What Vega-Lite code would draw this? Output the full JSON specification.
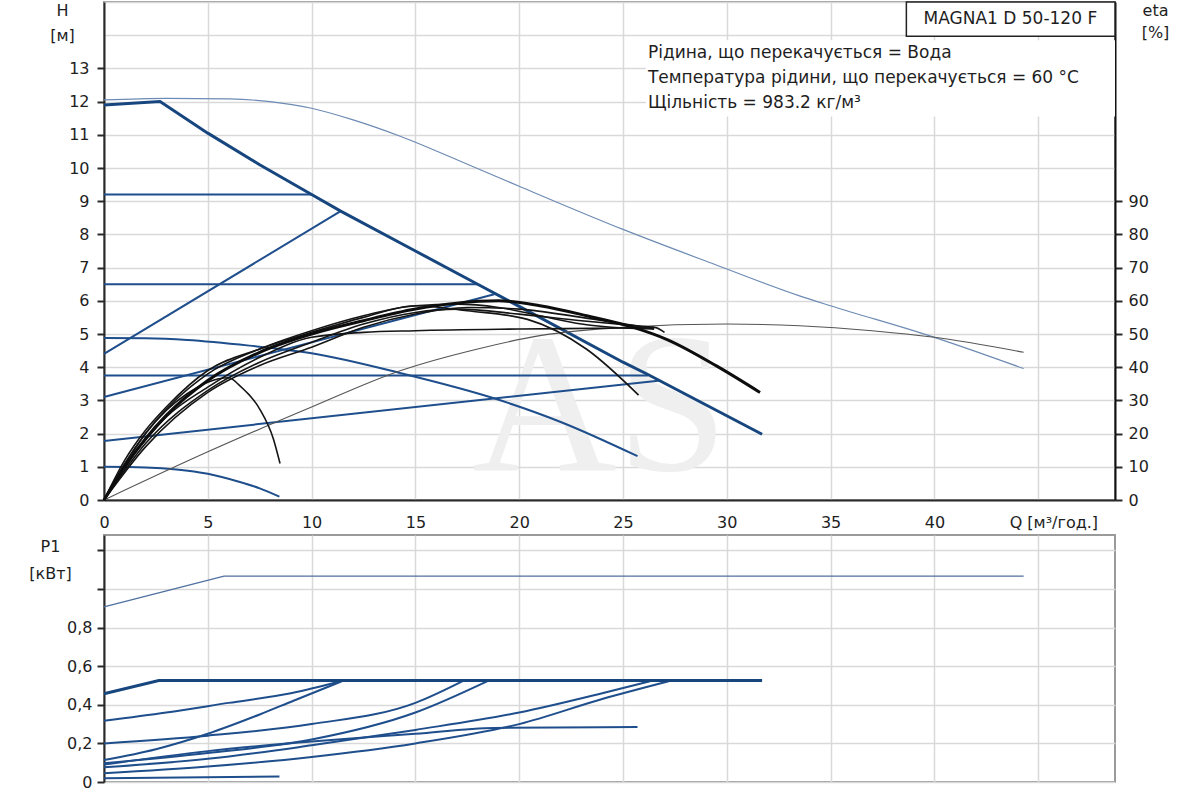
{
  "$schema": "https://vega.github.io/schema/vega-lite/v6.json",
  "background": "white",
  "padding": {"left": 27, "top": 0, "right": 0, "bottom": 0},
  "spacing": 3,
  "config": {
    "font": "DejaVu Sans",
    "view": {"stroke": "#9a9a9a", "strokeWidth": 2},
    "line": {"interpolate": "monotone"},
    "axis": {
      "labelFont": "DejaVu Sans", "labelFontSize": 16, "labelColor": "#1e1e1e",
      "titleFont": "DejaVu Sans", "titleFontSize": 16, "titleFontWeight": "normal", "titleColor": "#1e1e1e",
      "gridColor": "#d9d9d9", "gridWidth": 1.5,
      "domainColor": "#2a2a2a", "domainWidth": 2, "tickColor": "#2a2a2a", "tickWidth": 2
    }
  },
  "datasets": {
    "hcurves": [
      {"c": "max", "q": 0, "h": 11.9}, {"c": "max", "q": 2.7, "h": 12.0}, {"c": "max", "q": 5, "h": 11.05},
      {"c": "max", "q": 7.5, "h": 10.1}, {"c": "max", "q": 10, "h": 9.2}, {"c": "max", "q": 11.4, "h": 8.7},
      {"c": "max", "q": 15, "h": 7.5}, {"c": "max", "q": 18, "h": 6.5}, {"c": "max", "q": 20, "h": 5.83},
      {"c": "max", "q": 25, "h": 4.15}, {"c": "max", "q": 26.2, "h": 3.78}, {"c": "max", "q": 31.7, "h": 1.98},
      {"c": "cp92", "q": 0, "h": 9.2}, {"c": "cp92", "q": 10, "h": 9.2},
      {"c": "cp65", "q": 0, "h": 6.5}, {"c": "cp65", "q": 18, "h": 6.5},
      {"c": "cp375", "q": 0, "h": 3.75}, {"c": "cp375", "q": 26.2, "h": 3.75},
      {"c": "pp1", "q": 0, "h": 4.4}, {"c": "pp1", "q": 11.4, "h": 8.7},
      {"c": "pp2", "q": 0, "h": 3.1}, {"c": "pp2", "q": 18.8, "h": 6.2},
      {"c": "pp3", "q": 0, "h": 1.78}, {"c": "pp3", "q": 26.8, "h": 3.6},
      {"c": "cc", "q": 0, "h": 4.88}, {"c": "cc", "q": 2, "h": 4.87}, {"c": "cc", "q": 4, "h": 4.82},
      {"c": "cc", "q": 7, "h": 4.65}, {"c": "cc", "q": 10, "h": 4.42}, {"c": "cc", "q": 14.3, "h": 3.82},
      {"c": "cc", "q": 18.9, "h": 3.04}, {"c": "cc", "q": 22, "h": 2.35}, {"c": "cc", "q": 25.7, "h": 1.32},
      {"c": "min", "q": 0, "h": 1.0}, {"c": "min", "q": 2, "h": 0.98}, {"c": "min", "q": 3.5, "h": 0.92},
      {"c": "min", "q": 5, "h": 0.79}, {"c": "min", "q": 6.5, "h": 0.55}, {"c": "min", "q": 7.5, "h": 0.35},
      {"c": "min", "q": 8.45, "h": 0.1},
      {"c": "twin", "q": 0, "h": 12.05}, {"c": "twin", "q": 3, "h": 12.1}, {"c": "twin", "q": 6, "h": 12.08},
      {"c": "twin", "q": 8, "h": 12.0}, {"c": "twin", "q": 10, "h": 11.8}, {"c": "twin", "q": 12, "h": 11.45},
      {"c": "twin", "q": 14.3, "h": 10.95}, {"c": "twin", "q": 17, "h": 10.25}, {"c": "twin", "q": 20, "h": 9.45},
      {"c": "twin", "q": 25, "h": 8.15}, {"c": "twin", "q": 29.4, "h": 7.1}, {"c": "twin", "q": 33.5, "h": 6.15},
      {"c": "twin", "q": 35, "h": 5.85}, {"c": "twin", "q": 40, "h": 4.9}, {"c": "twin", "q": 44.3, "h": 3.96}
    ],
    "eta": [
      {"c": "e1", "q": 0, "eta": 0}, {"c": "e1", "q": 1, "eta": 11}, {"c": "e1", "q": 2, "eta": 20},
      {"c": "e1", "q": 3, "eta": 27}, {"c": "e1", "q": 4, "eta": 32}, {"c": "e1", "q": 5, "eta": 35.5},
      {"c": "e1", "q": 6, "eta": 36.8}, {"c": "e1", "q": 6.55, "eta": 34.4}, {"c": "e1", "q": 7.5, "eta": 27.4},
      {"c": "e1", "q": 8.16, "eta": 18.4}, {"c": "e1", "q": 8.48, "eta": 11},
      {"c": "e2", "q": 0, "eta": 0}, {"c": "e2", "q": 1, "eta": 12}, {"c": "e2", "q": 2, "eta": 21},
      {"c": "e2", "q": 3, "eta": 28}, {"c": "e2", "q": 5, "eta": 39}, {"c": "e2", "q": 7.5, "eta": 45.5},
      {"c": "e2", "q": 10, "eta": 50.5}, {"c": "e2", "q": 12.5, "eta": 55}, {"c": "e2", "q": 15, "eta": 58.5},
      {"c": "e2", "q": 17.5, "eta": 57}, {"c": "e2", "q": 20.4, "eta": 54.4}, {"c": "e2", "q": 23.25, "eta": 45.4},
      {"c": "e2", "q": 25.75, "eta": 31.6},
      {"c": "e3", "q": 0, "eta": 0}, {"c": "e3", "q": 1, "eta": 10}, {"c": "e3", "q": 2, "eta": 18.5},
      {"c": "e3", "q": 3, "eta": 25.5}, {"c": "e3", "q": 5, "eta": 36}, {"c": "e3", "q": 7.5, "eta": 44.5},
      {"c": "e3", "q": 10, "eta": 50}, {"c": "e3", "q": 12.5, "eta": 54}, {"c": "e3", "q": 15, "eta": 57.5},
      {"c": "e3", "q": 17, "eta": 59.3}, {"c": "e3", "q": 19, "eta": 60}, {"c": "e3", "q": 21, "eta": 58.5},
      {"c": "e3", "q": 23.25, "eta": 55.5}, {"c": "e3", "q": 25.5, "eta": 52}, {"c": "e3", "q": 27.1, "eta": 48.4},
      {"c": "e3", "q": 29.5, "eta": 40.4}, {"c": "e3", "q": 31.6, "eta": 32.4},
      {"c": "e4", "q": 0, "eta": 0}, {"c": "e4", "q": 1, "eta": 10}, {"c": "e4", "q": 2, "eta": 18},
      {"c": "e4", "q": 3, "eta": 25}, {"c": "e4", "q": 5, "eta": 34}, {"c": "e4", "q": 7.5, "eta": 43},
      {"c": "e4", "q": 10, "eta": 49}, {"c": "e4", "q": 12.5, "eta": 50.5}, {"c": "e4", "q": 15, "eta": 51},
      {"c": "e4", "q": 20, "eta": 51.5}, {"c": "e4", "q": 25, "eta": 51.8}, {"c": "e4", "q": 26.5, "eta": 52},
      {"c": "e4", "q": 27, "eta": 50.5},
      {"c": "e5", "q": 0, "eta": 0}, {"c": "e5", "q": 2, "eta": 17}, {"c": "e5", "q": 5, "eta": 33},
      {"c": "e5", "q": 7.5, "eta": 41.5}, {"c": "e5", "q": 10, "eta": 47.5}, {"c": "e5", "q": 12.5, "eta": 53},
      {"c": "e5", "q": 15, "eta": 56.5}, {"c": "e5", "q": 17, "eta": 57.5}, {"c": "e5", "q": 20, "eta": 56},
      {"c": "e5", "q": 23, "eta": 54}, {"c": "e5", "q": 26.5, "eta": 52},
      {"c": "e6", "q": 0, "eta": 0}, {"c": "e6", "q": 2, "eta": 16}, {"c": "e6", "q": 5, "eta": 32.4},
      {"c": "e6", "q": 7.5, "eta": 40.5}, {"c": "e6", "q": 10, "eta": 46}, {"c": "e6", "q": 12.5, "eta": 52},
      {"c": "e6", "q": 15, "eta": 56}, {"c": "e6", "q": 17.5, "eta": 58}, {"c": "e6", "q": 20, "eta": 57.5},
      {"c": "e6", "q": 23, "eta": 55}, {"c": "e6", "q": 26.5, "eta": 51.5},
      {"c": "e7", "q": 0, "eta": 0}, {"c": "e7", "q": 2, "eta": 20}, {"c": "e7", "q": 5, "eta": 38},
      {"c": "e7", "q": 7.5, "eta": 45.5}, {"c": "e7", "q": 10, "eta": 51}, {"c": "e7", "q": 12.5, "eta": 55.5},
      {"c": "e7", "q": 15, "eta": 58.5}, {"c": "e7", "q": 17, "eta": 59}, {"c": "e7", "q": 19, "eta": 58},
      {"c": "e7", "q": 21, "eta": 55.5}, {"c": "e7", "q": 23, "eta": 53}, {"c": "e7", "q": 25, "eta": 51.8},
      {"c": "e7", "q": 26.5, "eta": 51.5},
      {"c": "etwin", "q": 0, "eta": 0}, {"c": "etwin", "q": 5, "eta": 14.5}, {"c": "etwin", "q": 10, "eta": 28},
      {"c": "etwin", "q": 14.3, "eta": 39}, {"c": "etwin", "q": 18, "eta": 45.5}, {"c": "etwin", "q": 21, "eta": 49.5},
      {"c": "etwin", "q": 25, "eta": 52}, {"c": "etwin", "q": 30, "eta": 53}, {"c": "etwin", "q": 33.5, "eta": 52.5},
      {"c": "etwin", "q": 37, "eta": 51}, {"c": "etwin", "q": 40, "eta": 49}, {"c": "etwin", "q": 44.3, "eta": 44.5}
    ],
    "power": [
      {"c": "pmax", "q": 0, "p": 0.457}, {"c": "pmax", "q": 2.64, "p": 0.526}, {"c": "pmax", "q": 31.7, "p": 0.526},
      {"c": "pa", "q": 0, "p": 0.317}, {"c": "pa", "q": 3, "p": 0.36}, {"c": "pa", "q": 6, "p": 0.41},
      {"c": "pa", "q": 9, "p": 0.46}, {"c": "pa", "q": 11.4, "p": 0.522},
      {"c": "pb", "q": 0, "p": 0.114}, {"c": "pb", "q": 2.5, "p": 0.17}, {"c": "pb", "q": 5, "p": 0.25},
      {"c": "pb", "q": 7.5, "p": 0.35}, {"c": "pb", "q": 9.1, "p": 0.42}, {"c": "pb", "q": 11.5, "p": 0.524},
      {"c": "pc", "q": 0, "p": 0.2}, {"c": "pc", "q": 5, "p": 0.24}, {"c": "pc", "q": 10, "p": 0.3},
      {"c": "pc", "q": 15, "p": 0.41}, {"c": "pc", "q": 17.3, "p": 0.524},
      {"c": "pd", "q": 0, "p": 0.097}, {"c": "pd", "q": 5, "p": 0.15}, {"c": "pd", "q": 10, "p": 0.22},
      {"c": "pd", "q": 15, "p": 0.36}, {"c": "pd", "q": 18.5, "p": 0.524},
      {"c": "pe", "q": 0, "p": 0.09}, {"c": "pe", "q": 5, "p": 0.16}, {"c": "pe", "q": 10, "p": 0.21},
      {"c": "pe", "q": 15, "p": 0.25}, {"c": "pe", "q": 18.8, "p": 0.28}, {"c": "pe", "q": 25.7, "p": 0.285},
      {"c": "pf", "q": 0, "p": 0.076}, {"c": "pf", "q": 5, "p": 0.12}, {"c": "pf", "q": 10, "p": 0.19},
      {"c": "pf", "q": 15, "p": 0.27}, {"c": "pf", "q": 20, "p": 0.36}, {"c": "pf", "q": 24, "p": 0.46},
      {"c": "pf", "q": 26.3, "p": 0.522},
      {"c": "pg", "q": 0, "p": 0.045}, {"c": "pg", "q": 5, "p": 0.08}, {"c": "pg", "q": 10, "p": 0.13},
      {"c": "pg", "q": 15, "p": 0.2}, {"c": "pg", "q": 20, "p": 0.3}, {"c": "pg", "q": 24, "p": 0.43},
      {"c": "pg", "q": 27.2, "p": 0.522},
      {"c": "ph", "q": 0, "p": 0.02}, {"c": "ph", "q": 8.45, "p": 0.028},
      {"c": "ptwin", "q": 0, "p": 0.907}, {"c": "ptwin", "q": 5.78, "p": 1.067}, {"c": "ptwin", "q": 44.3, "p": 1.067}
    ],
    "boxes": [
      {"k": "bg", "q": 26.1, "q2": 48.7, "h": 11.55, "h2": 13.85},
      {"k": "title", "q": 38.65, "q2": 48.7, "h": 13.97, "h2": 15}
    ],
    "notes": [
      {"k": "wm", "q": 23.9, "h": 0.9, "t": "AS"},
      {"k": "title", "q": 43.66, "h": 14.5, "t": "MAGNA1 D 50-120 F"},
      {"k": "line", "q": 26.2, "h": 13.45, "t": "Рідина, що перекачується = Вода"},
      {"k": "line", "q": 26.2, "h": 12.7, "t": "Температура рідини, що перекачується = 60 °C"},
      {"k": "line", "q": 26.2, "h": 11.95, "t": "Щільність = 983.2 кг/м³"}
    ]
  },
  "vconcat": [
    {
      "width": 1011,
      "height": 498,
      "layer": [
        {
          "encoding": {
            "x": {
              "field": "q", "type": "quantitative",
              "scale": {"domain": [0, 48.7], "nice": false, "zero": false},
              "axis": {
                "values": [0, 5, 10, 15, 20, 25, 30, 35, 40, 45],
                "title": null, "tickSize": 0, "labelPadding": 14,
                "labelExpr": "datum.value == 45 ? 'Q [м³/год.]' : datum.label",
                "labelAlign": {"condition": {"test": "datum.value == 45", "value": "left"}, "value": "center"},
                "labelOffset": {"condition": {"test": "datum.value == 45", "value": -29}, "value": 0}
              }
            },
            "y": {
              "field": "h", "type": "quantitative",
              "scale": {"domain": [0, 15], "nice": false},
              "axis": {
                "values": [0, 1, 2, 3, 4, 5, 6, 7, 8, 9, 10, 11, 12, 13, 14, 15],
                "title": ["H", "[м]"], "titleAngle": 0, "titleAlign": "center", "titleBaseline": "top",
                "titleX": -42, "titleY": 0, "titleLineHeight": 25,
                "labelExpr": "datum.value > 13 ? '' : datum.label",
                "tickSize": 7, "labelPadding": 8,
                "tickColor": {"condition": {"test": "datum.value > 13", "value": "transparent"}, "value": "#2a2a2a"}
              }
            }
          },
          "layer": [
            {
              "data": {"name": "boxes"},
              "transform": [{"filter": "datum.k == 'bg'"}],
              "mark": {"type": "rect", "color": "white"},
              "encoding": {"x2": {"field": "q2"}, "y2": {"field": "h2"}}
            },
            {
              "data": {"name": "boxes"},
              "transform": [{"filter": "datum.k == 'title'"}],
              "mark": {"type": "rect", "fill": "white", "stroke": "#222", "strokeWidth": 1.5},
              "encoding": {"x2": {"field": "q2"}, "y2": {"field": "h2"}}
            },
            {
              "data": {"name": "notes"},
              "transform": [{"filter": "datum.k == 'wm'"}],
              "mark": {"type": "text", "font": "Liberation Serif", "fontSize": 200, "color": "#efefef", "align": "center", "baseline": "alphabetic"},
              "encoding": {"text": {"field": "t"}}
            },
            {
              "data": {"name": "hcurves"},
              "transform": [{"filter": "datum.c == 'twin'"}],
              "mark": {"type": "line", "color": "#6d8bb4", "strokeWidth": 1.2},
              "encoding": {"detail": {"field": "c"}}
            },
            {
              "data": {"name": "hcurves"},
              "transform": [{"filter": "datum.c != 'twin' && datum.c != 'max'"}],
              "mark": {"type": "line", "color": "#1f4e8c", "strokeWidth": 2},
              "encoding": {"detail": {"field": "c"}}
            },
            {
              "data": {"name": "hcurves"},
              "transform": [{"filter": "datum.c == 'max'"}],
              "mark": {"type": "line", "color": "#17467f", "strokeWidth": 3, "interpolate": "linear"},
              "encoding": {"detail": {"field": "c"}}
            },
            {
              "data": {"name": "notes"},
              "transform": [{"filter": "datum.k == 'title'"}],
              "mark": {"type": "text", "fontSize": 17, "color": "#1e1e1e", "align": "center", "baseline": "middle"},
              "encoding": {"text": {"field": "t"}}
            },
            {
              "data": {"name": "notes"},
              "transform": [{"filter": "datum.k == 'line'"}],
              "mark": {"type": "text", "fontSize": 17, "color": "#1e1e1e", "align": "left", "baseline": "middle"},
              "encoding": {"text": {"field": "t"}}
            }
          ]
        },
        {
          "data": {"name": "eta"},
          "encoding": {
            "x": {"field": "q", "type": "quantitative"},
            "y": {
              "field": "eta", "type": "quantitative",
              "scale": {"domain": [0, 150], "nice": false},
              "axis": {
                "orient": "right", "values": [0, 10, 20, 30, 40, 50, 60, 70, 80, 90], "grid": false,
                "title": ["eta", "[%]"], "titleAngle": 0, "titleAlign": "center", "titleBaseline": "top",
                "titleX": 40, "titleY": 0, "titleLineHeight": 22,
                "tickSize": 7, "labelPadding": 6, "domainColor": "#111"
              }
            },
            "detail": {"field": "c"}
          },
          "layer": [
            {
              "transform": [{"filter": "datum.c == 'etwin'"}],
              "mark": {"type": "line", "color": "#555555", "strokeWidth": 1.1}
            },
            {
              "transform": [{"filter": "datum.c != 'etwin' && datum.c != 'e3'"}],
              "mark": {"type": "line", "color": "#151515", "strokeWidth": 1.6}
            },
            {
              "transform": [{"filter": "datum.c == 'e3'"}],
              "mark": {"type": "line", "color": "#0d0d0d", "strokeWidth": 3}
            }
          ]
        }
      ],
      "resolve": {"scale": {"y": "independent"}}
    },
    {
      "width": 1011,
      "height": 247,
      "data": {"name": "power"},
      "encoding": {
        "x": {
          "field": "q", "type": "quantitative",
          "scale": {"domain": [0, 48.7], "nice": false, "zero": false},
          "axis": {"values": [0, 5, 10, 15, 20, 25, 30, 35, 40, 45], "labels": false, "ticks": false, "domain": false, "title": null}
        },
        "y": {
          "field": "p", "type": "quantitative",
          "scale": {"domain": [0, 1.28], "nice": false},
          "axis": {
            "values": [0, 0.2, 0.4, 0.6, 0.8, 1.0, 1.2],
            "title": ["P1", "[кВт]"], "titleAngle": 0, "titleAlign": "center", "titleBaseline": "top",
            "titleX": -54, "titleY": 3, "titleLineHeight": 27,
            "labelExpr": "datum.value == 0 ? '0' : datum.value > 0.9 ? '' : replace(format(datum.value, '.1f'), '.', ',')",
            "tickSize": 7, "labelPadding": 5
          }
        },
        "detail": {"field": "c"}
      },
      "layer": [
        {
          "transform": [{"filter": "datum.c == 'ptwin'"}],
          "mark": {"type": "line", "color": "#4f70a0", "strokeWidth": 1.3, "interpolate": "linear"}
        },
        {
          "transform": [{"filter": "datum.c != 'ptwin' && datum.c != 'pmax'"}],
          "mark": {"type": "line", "color": "#1f4e8c", "strokeWidth": 2}
        },
        {
          "transform": [{"filter": "datum.c == 'pmax'"}],
          "mark": {"type": "line", "color": "#17467f", "strokeWidth": 3, "interpolate": "linear"}
        }
      ]
    }
  ]
}
